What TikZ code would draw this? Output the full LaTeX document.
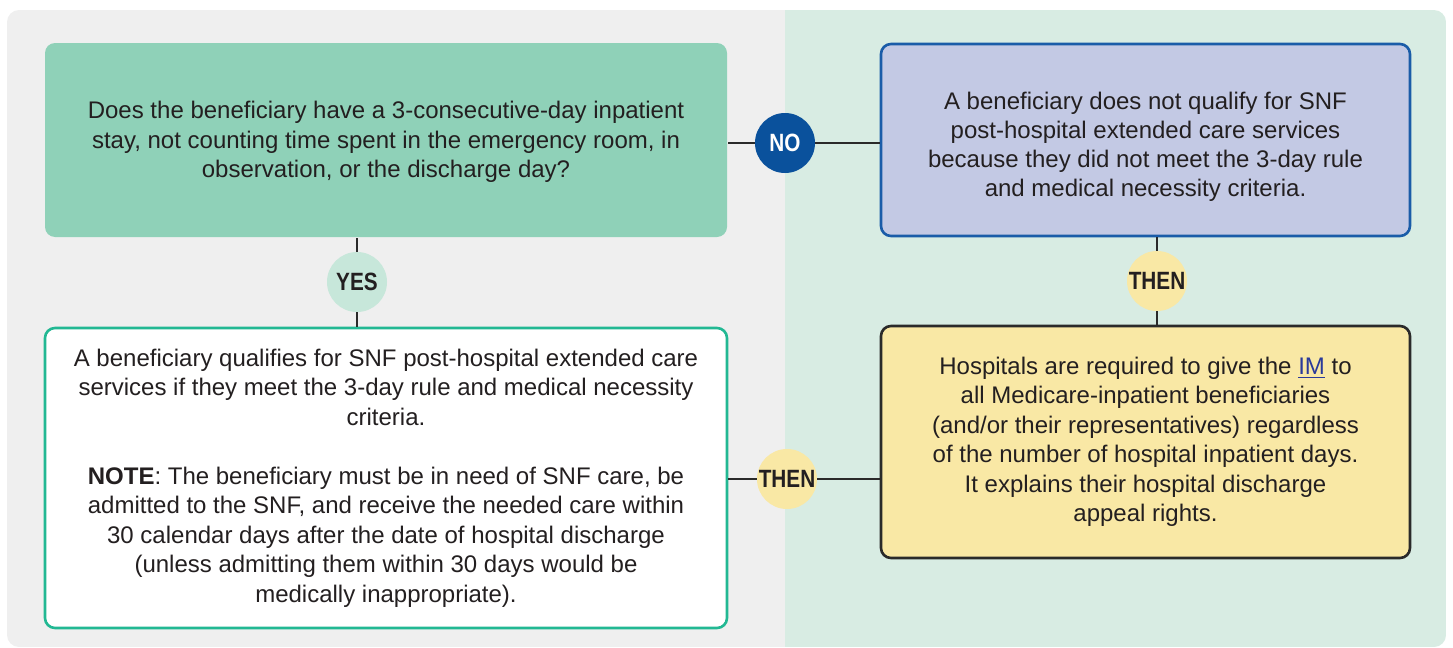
\documentclass[tikz,border=0pt]{standalone}
\usepackage{fontspec}
\setmainfont{Liberation Sans}
\newfontfamily\labelfont[FakeStretch=0.83]{Liberation Sans}
\usepackage{tikz}
\usetikzlibrary{positioning}

\definecolor{leftbg}{HTML}{EFEFEF}
\definecolor{rightbg}{HTML}{D8ECE3}
\definecolor{qgreen}{HTML}{8FD1B8}
\definecolor{nofill}{HTML}{C3C9E4}
\definecolor{noline}{HTML}{1A5CA8}
\definecolor{noblue}{HTML}{0A519C}
\definecolor{yesgreen}{HTML}{C7E7DA}
\definecolor{qualline}{HTML}{22B893}
\definecolor{imfill}{HTML}{F9E8A5}
\definecolor{wire}{HTML}{2A2A2A}
\definecolor{ink}{HTML}{231F20}
\definecolor{linkblue}{HTML}{2B3A9A}

\begin{document}
\begin{tikzpicture}
    [x=0.5pt, y=-0.5pt,
     every node/.style={font=\fontsize{12}{14.75}\selectfont, text=ink},
     box/.style={rounded corners=5pt, minimum width=341pt, align=center, inner sep=0pt, line width=1.3pt},
     answer/.style={circle, minimum size=30pt, inner sep=0pt, font=\labelfont\bfseries\fontsize{12.5}{12.5}\selectfont},
     link/.style={draw=wire, line width=1.3pt}]
    \useasboundingbox (0,0) rectangle (1453,648);
    \begin{scope}
      \clip [rounded corners=6pt] (7,10) rectangle (1446,647);
      \fill [leftbg] (7,10) rectangle (785,647);
      \fill [rightbg] (785,10) rectangle (1446,647);
    \end{scope}

    \node (question) [box, fill=qgreen, minimum height=97pt] at (386,140)
      {\rule{0pt}{10.8pt}Does the beneficiary have a 3-consecutive-day inpatient\\
       stay, not counting time spent in the emergency room, in\\
       observation, or the discharge day?};
    \node (noqual) [box, fill=nofill, draw=noline, minimum width=264.5pt, minimum height=96pt,
                    font=\fontsize{12}{14.5}\selectfont] at (1145.5,140)
      {\rule{0pt}{15.3pt}A beneficiary does not qualify for SNF\\
       post-hospital extended care services\\
       because they did not meet the 3-day rule\\
       and medical necessity criteria.};
    \node (qual) [box, fill=white, draw=qualline, minimum height=150pt] at (386,478)
      {A beneficiary qualifies for SNF post-hospital extended care\\
       services if they meet the 3-day rule and medical necessity\\
       criteria.\\[14.75pt]
       \textbf{NOTE}: The beneficiary must be in need of SNF care, be\\
       admitted to the SNF, and receive the needed care within\\
       30 calendar days after the date of hospital discharge\\
       (unless admitting them within 30 days would be\\
       medically inappropriate).};
    \node (notice) [box, fill=imfill, draw=wire, minimum width=264.5pt, minimum height=116pt] at (1145.5,442)
      {Hospitals are required to give the \textcolor{linkblue}{\underline{IM}} to\\
       all Medicare-inpatient beneficiaries\\
       (and/or their representatives) regardless\\
       of the number of hospital inpatient days.\\
       It explains their hospital discharge\\
       appeal rights.};

    \node (no) [answer, fill=noblue, text=white] at (785,143) {NO};
    \node (yes) [answer, fill=yesgreen] at (357,282) {YES};
    \node (then1) [answer, fill=imfill] at (1157,281) {THEN};
    \node (then2) [answer, fill=imfill] at (787,479) {THEN};

    \draw [link] (question.east |- no) -- (no);
    \draw [link] (no) -- (no -| noqual.west);
    \draw [link] (yes) -- (yes |- question.south);
    \draw [link] (yes) -- (yes |- qual.north);
    \draw [link] (then1) -- (then1 |- noqual.south);
    \draw [link] (then1) -- (then1 |- notice.north);
    \draw [link] (then2) -- (then2 -| qual.east);
    \draw [link] (then2) -- (then2 -| notice.west);
  \end{tikzpicture}
\end{document}
